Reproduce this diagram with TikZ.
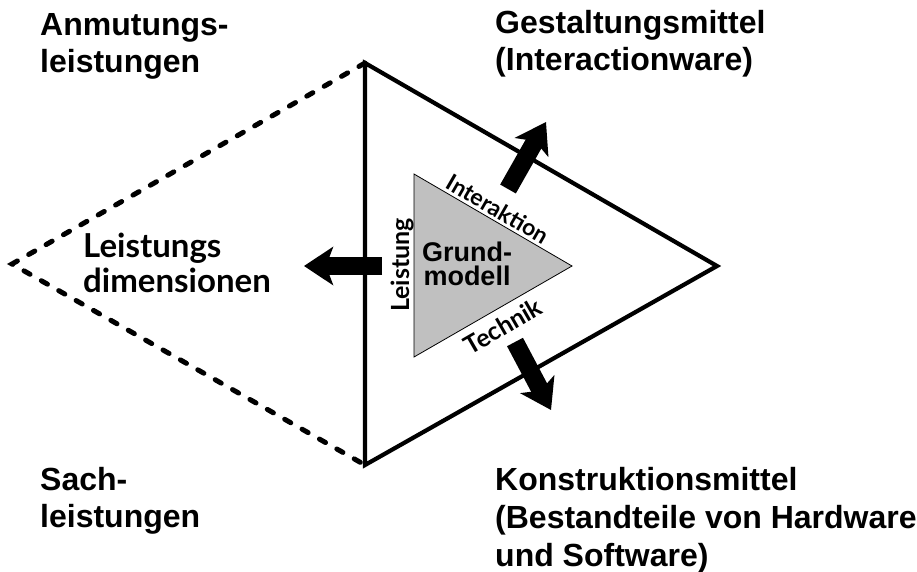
\documentclass[tikz,border=0pt]{standalone}
\usepackage{fontspec}
\setmainfont{Liberation Sans}
\newfontfamily\humanist{Lato}
\usetikzlibrary{arrows.meta}
\definecolor{modelgray}{RGB}{192,192,192}
\tikzset{
  outerframe/.style={line width=4.2pt, line join=miter},
  dimline/.style={line width=5pt, line cap=round, dash pattern=on 7pt off 13pt},
  coremodel/.style={draw=black, line width=0.8pt, fill=modelgray, line join=miter},
  blockarrow/.style={line width=18pt, -{Stealth[length=29pt,width=38pt,inset=7pt]}},
  cornerlabel/.style={inner sep=0pt, align=left, anchor=base west},
  sidelabel/.style={inner sep=0pt, font=\humanist\bfseries\fontsize{24}{28}\selectfont},
}
\begin{document}
\begin{tikzpicture}[x=1pt,y=-1pt]
\useasboundingbox (0,0) rectangle (917,571);

% outer triangle and the dashed performance dimensions
\coordinate (T) at (365,63);
\coordinate (B) at (365,465);
\coordinate (R) at (717,266);
\coordinate (L) at (12,264);
\draw[dimline] (T) -- (L) -- (B);
\draw[outerframe] (T) -- (R) -- (B) -- cycle;

% inner base model
\coordinate (it) at (414,174);
\coordinate (ib) at (414,357);
\coordinate (ir) at (572,266);
\draw[coremodel] (it) -- (ir) -- (ib) -- cycle;

% block arrows
\coordinate (lA) at (382,266);
\coordinate (lB) at (304,266);
\coordinate (uA) at (508,189);
\coordinate (uB) at (546,122);
\coordinate (dA) at (515,342);
\coordinate (dB) at (551,410);
\draw[blockarrow] (lA) -- (lB);
\draw[blockarrow] (uA) -- (uB);
\draw[blockarrow] (dA) -- (dB);

% labels inside
\node[inner sep=0pt, align=center, anchor=base,
  font=\bfseries\fontsize{27}{24}\selectfont]
  (grund) at (467,285) {Grund-\\modell};
\node[sidelabel, rotate=90, font=\humanist\bfseries\fontsize{25}{28}\selectfont]
  (leist) at (402,265) {Leistung};
\node[sidelabel, rotate=-30, font=\humanist\bfseries\fontsize{23}{28}\selectfont]
  (inter) at (498,209) {Interaktion};
\node[sidelabel, rotate=30, font=\humanist\bfseries\fontsize{25}{28}\selectfont]
  (tech) at (503,326) {Technik};
\node[sidelabel, align=left, anchor=base west,
  font=\humanist\bfseries\fontsize{33}{35}\selectfont]
  (dims) at (83,292) {Leistungs\\dimensionen};

% corner labels
\node[cornerlabel, font=\bfseries\fontsize{32}{37}\selectfont]
  (anm) at (40,72) {Anmutungs-\\leistungen};
\node[cornerlabel, font=\bfseries\fontsize{32}{37}\selectfont]
  (sach) at (40,527) {Sach-\\leistungen};
\node[cornerlabel, font=\bfseries\fontsize{32}{37}\selectfont]
  (gest) at (495,70) {Gestaltungsmittel\\(Interactionware)};
\node[cornerlabel, font=\bfseries\fontsize{32}{38}\selectfont]
  (konst) at (495,566) {Konstruktionsmittel\\(Bestandteile von Hardware\\und Software)};
\end{tikzpicture}
\end{document}
